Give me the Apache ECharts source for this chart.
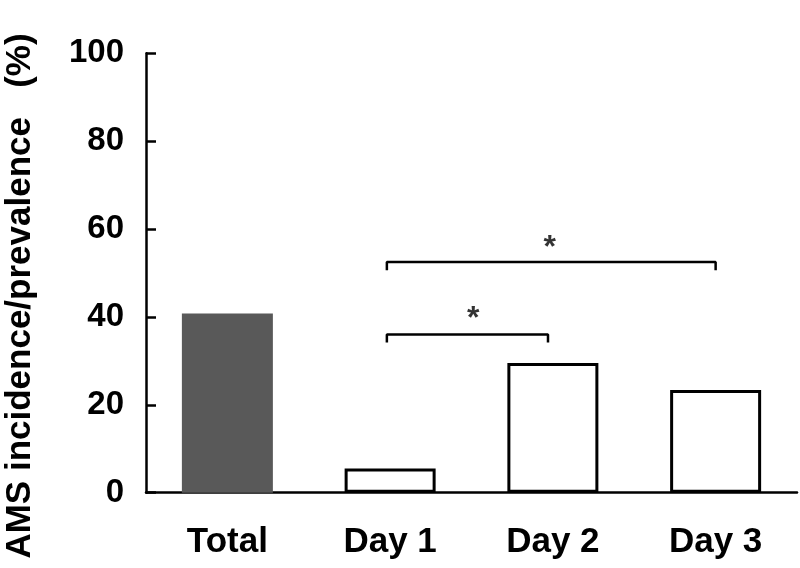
<!DOCTYPE html>
<html>
<head>
<meta charset="utf-8">
<script src="https://cdn.jsdelivr.net/npm/echarts@6/dist/echarts.min.js"></script>
<style>html,body{margin:0;padding:0;background:#fff;}#c{width:800px;height:568px;}</style>
</head>
<body>
<div id="c"></div>
<script>
const categories = ['Total', 'Day 1', 'Day 2', 'Day 3'];
const values = [40.8, 5.5, 29.5, 23.4];
const yMin = 0, yMax = 100, yInterval = 20;
const yTitle = 'AMS incidence/prevalence   (%)';
// significance brackets: [category position (0 = Total ... 3 = Day 3), value]
const bracketDay1Day2 = [[0.98, 34.2], [0.98, 36.0], [1.97, 36.0], [1.97, 34.2]];
const bracketDay1Day3 = [[0.98, 50.6], [0.98, 52.5], [3.0, 52.5], [3.0, 50.6]];
const stars = [[1.51, 40.8], [1.98, 57.1]];

const font = '"Liberation Sans", Arial, Helvetica, sans-serif';
const chart = echarts.init(document.getElementById('c'), null, {renderer: 'canvas'});
const barData = values.map((v, i) => ({
  value: v,
  itemStyle: i === 0
    ? {color: '#595959', borderWidth: 0}
    : {color: '#ffffff', borderColor: '#000000', borderWidth: 3}
}));
const bracketStyle = {color: '#000', width: 2.5};
chart.setOption({
  animation: false,
  backgroundColor: '#fff',
  grid: {left: 146, right: 3, top: 53.3, bottom: 75.3, outerBoundsMode: 'none', containLabel: false},
  xAxis: [{
    type: 'category',
    data: categories,
    axisLine: {lineStyle: {color: '#000', width: 2.5}},
    axisTick: {show: false},
    axisLabel: {color: '#000', fontSize: 35, fontWeight: 'bold', fontFamily: font, margin: 32}
  }, {
    type: 'value',
    min: -0.5, max: categories.length - 0.5,
    show: false
  }],
  yAxis: {
    type: 'value',
    min: yMin, max: yMax, interval: yInterval,
    name: yTitle,
    nameLocation: 'middle',
    nameRotate: 90,
    nameGap: 108,
    nameTextStyle: {color: '#000', fontSize: 35, fontWeight: 'bold', fontFamily: font, padding: [0, 46, 0, 0]},
    axisLine: {show: true, onZero: false, lineStyle: {color: '#000', width: 2.5}},
    axisTick: {show: true, inside: true, length: 10, lineStyle: {color: '#000', width: 2.5}},
    splitLine: {show: false},
    axisLabel: {color: '#000', fontSize: 33, fontWeight: 'bold', fontFamily: font, margin: 22}
  },
  series: [
    {type: 'bar', data: barData, barWidth: 91, z: 2},
    {type: 'line', xAxisIndex: 1, data: bracketDay1Day2, symbol: 'none', lineStyle: bracketStyle, z: 3},
    {type: 'line', xAxisIndex: 1, data: bracketDay1Day3, symbol: 'none', lineStyle: bracketStyle, z: 3},
    {type: 'scatter', xAxisIndex: 1, data: stars, symbolSize: 1, itemStyle: {color: 'rgba(0,0,0,0)'}, z: 4,
     label: {show: true, position: 'inside', formatter: '*', color: '#000', fontSize: 32, fontWeight: 'bold', fontFamily: font, offset: [0, 6]}}
  ]
});
</script>
</body>
</html>
